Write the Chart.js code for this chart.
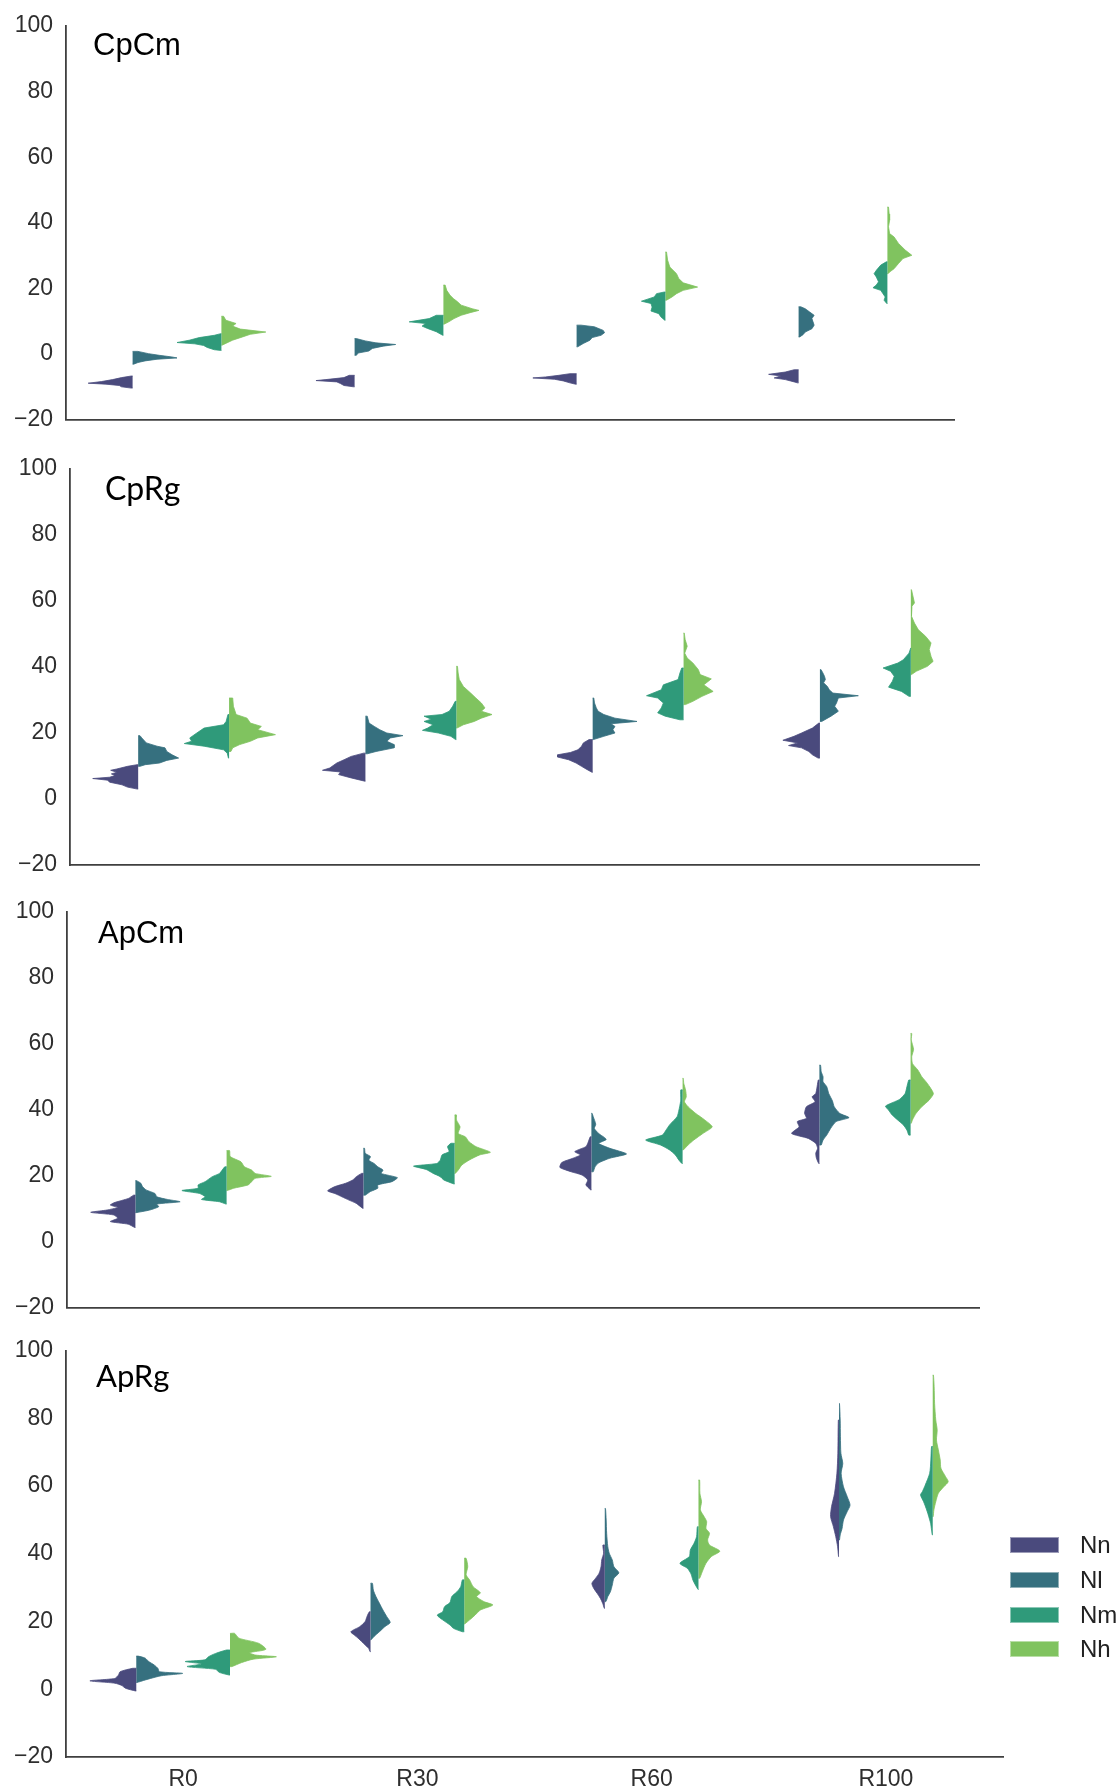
<!DOCTYPE html>
<html>
<head>
<meta charset="utf-8">
<title>Split violin panels</title>
<script src="https://cdn.jsdelivr.net/npm/chart.js@4.4.1/dist/chart.umd.min.js"></script>
<style>
  html, body { margin: 0; padding: 0; background: #ffffff; }
  #wrap { position: relative; width: 1119px; height: 1791px; overflow: hidden; }
  #wrap canvas { position: absolute; left: 0; }
  #legend { position: absolute; left: 1010px; top: 1528px; font-family: "Liberation Sans", Arial, sans-serif; font-size: 24px; color: #222; }
  #legend .item { display: flex; align-items: center; height: 34.7px; }
  #legend .swatch { width: 49px; height: 16px; margin-right: 21px; box-shadow: inset 0 0 0 1px rgba(255,255,255,0.45); }
</style>
</head>
<body>
<div id="wrap">
  <canvas id="p1" width="1119" height="440" style="top:0px;width:1119px;height:440px"></canvas>
  <canvas id="p2" width="1119" height="440" style="top:440px;width:1119px;height:440px"></canvas>
  <canvas id="p3" width="1119" height="440" style="top:880px;width:1119px;height:440px"></canvas>
  <canvas id="p4" width="1119" height="483" style="top:1320px;width:1119px;height:483px"></canvas>
  <div id="legend"></div>
</div>
<script>
// ---- categories, groups and tick values ----
const categories = ['R0', 'R30', 'R60', 'R100'];
const groups = ['Nn', 'Nl', 'Nm', 'Nh'];
const palette = ['#4a4a7d', '#36707f', '#2f9a7a', '#80c35f'];
const yTickValues = [-20, 0, 20, 40, 60, 80, 100];

// ---- density profiles: one per category (R0, R30, R60, R100),
//      each a list of [value, density] pairs, density in % of category width ----

// CpCm
const cpcmNn = [
  [[-6.7,0.5],[-7.2,5],[-7.8,9],[-8.4,14],[-8.9,20],[-9.2,12],[-9.6,6],[-10.0,5],[-10.4,0.5]],
  [[-6.5,2.4],[-7.2,4.8],[-7.8,12.9],[-8.1,17.4],[-8.5,8],[-9.0,6.4],[-9.6,4.8],[-10.0,0.5]],
  [[-6.0,3],[-6.5,8],[-7.0,14],[-7.3,19.7],[-7.7,10],[-8.2,6],[-8.8,3],[-9.2,0.5]],
  [[-4.8,2],[-5.5,6],[-6.2,13.5],[-6.7,8],[-7.3,11],[-7.8,6],[-8.5,2],[-8.8,0.5]]
];
const cpcmNl = [
  [[0.8,2.4],[0.1,7.2],[-0.4,12],[-0.9,17.7],[-1.2,20],[-1.6,11],[-2.1,5.6],[-2.6,2.4],[-3.1,0.5]],
  [[4.7,0.8],[4.0,4.8],[3.4,9.6],[2.9,18.5],[2.4,12.9],[1.7,8],[0.9,6.4],[0.3,1.6],[-0.4,0.8]],
  [[8.8,2],[8.3,8],[7.2,12],[6.5,12.6],[5.7,11],[5.0,7],[4.2,6],[3.2,3],[2.2,0.5]],
  [[14.4,1],[13.8,3],[12.8,5],[11.8,7],[10.8,6],[9.8,6.5],[8.8,7],[7.7,6],[6.7,3],[5.9,2],[5.2,0.5]]
];
const cpcmNm = [
  [[6.2,0.3],[5.7,3.2],[5.0,10],[4.2,14.5],[3.5,20],[3.1,12],[2.6,8],[2.0,6.4],[1.3,3.2],[1.1,0.3]],
  [[11.8,3.2],[10.8,6.4],[9.8,15.4],[9.3,8],[8.5,9.6],[7.8,7.2],[6.8,3.2],[5.7,0.3]],
  [[18.9,0.5],[18.4,4],[17.4,5],[16.1,10.8],[15.4,6.5],[14.3,6],[13.1,6.5],[12.3,3],[11.3,2],[10.3,0.3]],
  [[28.1,0.5],[27.1,3],[25.5,5],[24.5,6],[23.5,5],[22.0,4],[21.0,5],[20.2,6.5],[19.4,3],[18.4,2],[17.4,1],[16.4,1.5],[15.4,0.3]]
];
const cpcmNh = [
  [[11.5,1],[10.3,2],[9.3,6.6],[8.5,5],[7.6,8.5],[6.7,20],[6.0,13],[5.2,9.5],[4.2,5],[2.7,0.3]],
  [[21.0,0.8],[19.4,1.5],[17.9,3],[16.9,4.5],[15.9,6.4],[14.9,8],[13.8,13],[13.3,16],[12.6,12],[11.8,8],[10.8,4.8],[9.8,2.4],[9.1,0.3]],
  [[31.1,0.5],[28.6,1],[26.5,2],[24.5,5],[23.0,6],[21.7,8],[20.4,14.5],[19.4,8],[18.4,5],[17.4,3],[16.4,0.5]],
  [[44.8,0.5],[42.7,0.8],[40.8,1],[38.8,0.5],[36.7,1],[35.7,3],[33.7,5],[31.7,8],[30.1,11],[29.1,7],[27.6,5],[26.0,3],[25.0,1],[24.5,0.3]]
];

// CpRg
const cprgNn = [
  [[10.4,0.5],[9.9,4.7],[9.1,9.4],[8.7,12.1],[8.1,9.4],[7.6,11.8],[7.1,10.2],[6.6,12.6],[6.2,20],[5.7,13.4],[5.1,12.6],[4.3,7.1],[3.6,4.7],[3.0,0.3]],
  [[13.9,0.8],[12.9,6.3],[11.9,9.4],[10.9,12.6],[9.4,15.7],[8.7,18.9],[8.2,11],[7.4,11.8],[6.4,6.3],[5.4,0.3]],
  [[18.0,1.6],[17.0,4.1],[16.0,4.9],[14.9,6.5],[14.1,9.8],[13.4,15.4],[12.7,15.4],[11.9,10.6],[10.9,7.3],[9.9,4.9],[8.9,2.4],[8.1,0.3]],
  [[23.0,0.5],[21.5,3.3],[20.0,8.1],[19.0,11.4],[17.8,16.3],[17.0,9.8],[16.2,13.8],[15.5,8.1],[14.4,4.9],[13.4,3.3],[12.4,0.8]]
];
const cprgNl = [
  [[19.2,0.8],[18.5,1.6],[17.0,3.6],[16.0,8.3],[15.5,11.8],[14.4,12.6],[13.4,14.9],[12.4,17.8],[11.7,12.6],[10.9,9.4],[10.4,3.1],[9.9,0.8]],
  [[25.1,0.8],[23.0,1.6],[22.0,3.9],[21.0,6.3],[20.0,9.4],[19.2,16.5],[18.5,11],[17.5,9.4],[16.5,12.6],[15.5,12.6],[14.4,4.7],[13.7,0.8]],
  [[30.6,0.5],[29.1,0.8],[27.6,1.6],[26.6,2.4],[25.6,4.9],[24.5,9.8],[23.5,19.5],[22.8,8.1],[22.0,9.8],[21.0,8.9],[20.0,9.8],[19.0,4.9],[18.0,0.3]],
  [[39.2,0.5],[38.2,1.3],[37.2,2],[36.2,2.4],[35.2,1.6],[34.1,3.3],[33.1,4.1],[32.1,5.7],[31.3,16.9],[30.6,8.1],[29.1,7.3],[28.1,6.5],[26.6,8.1],[25.1,4.9],[23.5,0.8]]
];
const cprgNm = [
  [[25.6,0.5],[23.5,1.3],[22.5,2.4],[21.5,11],[20.0,14.2],[18.5,17.3],[17.5,16.5],[16.8,19.7],[16.0,11],[14.9,2.4],[13.9,0.8],[12.4,0.3]],
  [[29.6,0.5],[28.1,1.6],[26.6,3.1],[25.6,6.3],[25.1,14.2],[24.2,11],[23.5,14.2],[22.5,10.2],[21.5,12.6],[20.8,14.9],[20.0,7.9],[19.0,2.4],[18.0,0.3]],
  [[39.7,0.8],[38.2,1.6],[36.2,2.4],[34.6,8.9],[33.1,9.8],[31.3,16.3],[30.6,11.4],[29.1,8.9],[27.6,9.8],[26.1,11.4],[25.1,8.1],[24.0,1.6]],
  [[45.8,0.3],[44.2,0.8],[42.2,3.3],[41.2,5.7],[39.7,12.2],[38.7,8.9],[37.2,7.3],[35.7,8.1],[33.9,9.8],[32.6,4.1],[31.1,0.8]]
];
const cprgNh = [
  [[30.6,1.6],[28.1,1.9],[25.6,3.1],[24.5,7.9],[23.0,9.4],[22.0,14.2],[21.0,12.6],[19.5,20.4],[18.5,12.6],[17.5,9.4],[16.5,4.7],[15.5,1.6],[14.4,0.8]],
  [[40.2,0.5],[38.2,0.8],[36.2,1.3],[34.1,3.1],[32.1,6.3],[30.6,8.6],[29.1,11],[27.6,12.6],[26.6,11],[25.6,15.7],[24.5,11],[23.5,7.9],[22.5,3.1],[21.5,0.3]],
  [[50.3,0.3],[48.3,0.7],[46.3,1.6],[44.2,0.5],[42.7,1.6],[41.2,4.1],[39.2,6.5],[37.7,7.3],[36.4,12.2],[34.6,8.9],[32.6,13],[31.1,8.1],[29.6,4.1],[28.6,0.8]],
  [[63.4,0.3],[59.4,1.6],[58.4,0.5],[55.4,0.3],[53.3,1.6],[51.3,3.3],[49.3,6.5],[47.3,8.9],[45.3,8.1],[43.2,8.9],[41.7,9.8],[40.2,7.3],[38.7,2.4],[37.7,0.3]]
];

// ApCm
const apcmNn = [
  [[14.1,0.8],[13.1,3.1],[11.8,9.4],[11.1,11],[10.4,7.8],[9.6,12.5],[8.9,19.6],[8.1,9.4],[7.1,7.8],[6.1,11],[5.3,3.1],[4.3,0.3]],
  [[20.7,0.8],[19.7,3.1],[18.7,4.7],[17.7,7.8],[16.7,12.5],[15.4,15.7],[14.6,12.5],[13.6,9.4],[12.6,6.3],[11.6,3.1],[10.1,0.3]],
  [[31.8,0.5],[29.8,1.6],[28.8,2.4],[27.3,7.3],[26.3,4.9],[25.3,8.1],[24.0,13],[22.5,13.8],[21.2,8.9],[20.2,4.1],[18.7,1.6],[17.2,2.4],[15.7,0.3]],
  [[49.0,0.5],[44.9,1.6],[43.9,3.2],[42.4,1.9],[40.9,5.7],[38.9,6.5],[37.4,5.7],[36.4,9.7],[34.8,8.9],[32.8,12.2],[31.3,4.9],[29.8,1.6],[28.3,0.8],[26.8,1.6],[25.3,1.3],[23.7,0.3]]
];
const apcmNl = [
  [[18.5,0.5],[17.7,2.4],[16.7,3.1],[15.7,4.7],[14.6,8.6],[13.6,9.4],[12.8,14.1],[12.1,19.6],[11.4,9.4],[10.6,10.2],[9.6,6.3],[8.8,0.3]],
  [[28.3,0.5],[26.8,0.8],[25.8,3.1],[24.7,2.4],[23.7,4.7],[22.7,6.3],[21.7,8.6],[20.7,7.8],[19.4,14.9],[18.2,12.5],[17.2,6.3],[16.2,6.3],[15.2,3.1],[14.1,0.8]],
  [[38.9,0.3],[37.9,0.8],[35.6,1.9],[34.3,1.3],[32.8,3.2],[31.0,6.5],[29.8,3.2],[28.3,8.1],[26.6,15.4],[25.3,8.1],[23.9,3.2],[22.7,1.6],[21.2,0.8]],
  [[53.5,0.5],[51.5,0.8],[50.0,1.6],[48.5,1.6],[47.0,3.2],[44.9,4.1],[42.7,5.7],[40.9,6.5],[38.9,8.9],[37.6,13],[36.4,7.3],[34.3,4.9],[32.3,3.2],[30.8,1.6],[29.3,0.8]]
];
const apcmNm = [
  [[22.7,0.8],[20.7,3.1],[19.7,6.3],[18.2,9.4],[17.2,12.5],[16.2,12.5],[15.5,19.6],[14.6,11.8],[13.6,9.4],[12.8,11],[12.1,3.1],[11.4,0.3]],
  [[29.8,1.6],[28.8,3.1],[27.3,2.4],[26.3,5.5],[24.7,6.3],[23.7,7.8],[22.9,18],[21.9,12.5],[20.7,9.4],[19.7,6.3],[18.7,4.7],[17.5,0.3]],
  [[46.0,0.8],[42.9,0.8],[40.9,1.3],[39.9,1.6],[37.9,2.4],[35.4,5.7],[33.8,7.3],[32.3,8.9],[30.8,16.2],[29.3,9.7],[27.8,5.7],[26.3,3.2],[24.7,1.6],[23.7,0.3]],
  [[49.0,0.8],[47.0,1.6],[44.9,2.4],[43.1,4.9],[41.1,11],[39.9,9.7],[38.4,8.1],[36.9,5.7],[35.4,3.2],[33.8,1.6],[32.3,0.8]]
];
const apcmNh = [
  [[27.6,1.3],[25.8,1.6],[24.2,6.3],[22.7,7.8],[21.7,11],[20.7,12.5],[19.8,19.6],[19.2,12.5],[18.2,11],[17.2,9.4],[16.2,3.1],[15.5,0.3]],
  [[38.4,0.8],[36.9,0.8],[34.8,2.4],[32.8,1.6],[31.8,4.7],[30.3,6.3],[28.8,9.4],[27.1,15.7],[26.3,11],[24.7,6.3],[23.2,3.1],[21.7,1.6],[20.7,0.3]],
  [[49.5,0.3],[48.0,0.5],[46.0,1.3],[43.9,1.6],[42.4,0.8],[40.9,2.4],[38.9,5.7],[36.9,9.7],[34.8,13],[32.8,8.9],[30.8,4.9],[29.3,2.4],[27.8,0.3]],
  [[63.1,0.5],[61.1,0.3],[58.3,1.3],[56.1,0.5],[54.0,0.8],[52.0,3.2],[50.0,4.9],[48.0,7.3],[44.9,10],[42.9,8.1],[40.9,4.9],[38.9,2.4],[36.9,0.8],[35.9,0.3]]
];

// ApRg
const aprgNn = [
  [[6.2,1.5],[5.2,6.9],[4.2,7.6],[3.2,9.2],[2.5,19.8],[1.8,9.2],[1.1,6.1],[0.3,4.6],[-0.5,0.3]],
  [[22.9,0.5],[21.5,1.5],[20.0,2.3],[18.5,4.6],[17.0,8.4],[16.0,6.9],[15.1,5.3],[14.1,3.8],[13.1,2.3],[12.1,0.8],[11.1,0.2]],
  [[42.6,0.8],[40.2,0.5],[38.2,1.3],[36.2,1.6],[34.3,2.4],[32.8,3.9],[31.3,5.5],[29.8,4.7],[28.3,3.2],[26.9,1.9],[25.4,0.9],[23.9,0.2]],
  [[79.5,0.3],[69.7,0.5],[63.8,0.9],[57.9,1.9],[53.9,3.2],[51.0,3.6],[48.0,2.4],[45.1,1.4],[42.1,0.6],[39.2,0.2]]
];
const aprgNl = [
  [[9.8,0.8],[9.2,3.8],[8.2,5.3],[7.2,7.6],[6.2,9.2],[5.2,9.9],[4.7,19.8],[4.0,10.7],[3.2,6.1],[2.6,3.1],[2.0,0.3]],
  [[31.3,0.8],[29.3,1.2],[27.4,2.3],[25.4,3.8],[23.4,5.3],[21.5,6.9],[19.7,8.4],[18.5,6.1],[17.0,3.8],[15.6,1.5],[14.6,0.2]],
  [[53.4,0.3],[50.0,0.6],[46.1,0.8],[42.1,1.3],[40.2,1.9],[38.2,3.2],[36.2,3.9],[34.4,6.0],[32.8,3.9],[30.8,3.2],[28.8,2.4],[27.4,1.3],[25.9,0.5]],
  [[84.4,0.2],[79.5,0.5],[74.6,0.6],[69.7,0.8],[66.7,1.6],[63.8,0.9],[59.8,1.9],[56.9,3.5],[54.4,4.7],[52.5,3.5],[50.0,1.9],[47.5,1.3],[45.6,0.5],[44.1,0.2]]
];
const aprgNm = [
  [[11.6,1.5],[10.6,6.1],[9.6,9.2],[8.7,10.7],[8.2,19.1],[7.5,12.2],[6.7,18.3],[5.9,6.1],[5.0,4.6],[4.2,0.3]],
  [[32.3,0.8],[30.3,1.5],[28.8,3.1],[27.4,5.3],[25.6,6.1],[24.4,8.4],[22.9,9.2],[21.9,11.5],[20.5,9.2],[19.0,6.1],[18.0,4.6],[17.0,0.8]],
  [[48.0,0.5],[45.1,0.8],[43.1,1.9],[41.1,3.5],[39.2,3.9],[37.2,7.9],[35.7,4.7],[34.1,3.2],[32.3,2.4],[30.8,1.3],[29.5,0.2]],
  [[71.7,0.5],[67.7,0.8],[63.8,1.3],[60.3,3.2],[58.4,4.4],[57.4,5.2],[55.4,3.9],[53.4,2.8],[51.5,1.9],[49.0,0.9],[47.0,0.5],[45.6,0.2]]
];
const aprgNh = [
  [[16.5,2],[15.1,3.8],[13.6,12.2],[11.8,15.3],[10.8,8.4],[10.1,11],[9.6,19.8],[8.9,10],[7.9,5],[6.7,0.8]],
  [[38.7,0.8],[36.2,1.5],[33.8,0.8],[32.3,2.3],[30.3,3.8],[28.5,6.9],[27.4,5.3],[25.9,8.4],[24.9,12.2],[23.4,6.9],[21.9,4.6],[20.5,2.3],[19.3,0.2]],
  [[61.8,0.5],[57.9,0.6],[55.4,1.3],[53.0,0.8],[51.0,2.4],[49.5,3.5],[47.5,3.2],[46.1,4.7],[44.1,3.9],[42.6,4.7],[40.8,9.1],[39.2,5.5],[37.2,3.2],[34.7,1.6],[32.8,0.5]],
  [[92.8,0.3],[89.4,0.6],[84.4,0.8],[79.5,1.3],[76.6,1.9],[73.6,1.6],[70.7,2.4],[67.7,3.2],[65.3,3.5],[62.8,5.5],[61.3,6.6],[59.8,4.7],[57.9,2.4],[55.4,1.3],[53.0,0.5],[51.0,0.2]]
];

// ---- drawing ----
const SPLIT_OFFSET = 0.2;     // each split violin sits 0.2 category widths from the centre
const DENSITY_TO_X = 0.01;    // density is given in % of the category width

// Closed outline of one half violin: down the centre line, out along the profile.
function halfViolin(profile, centre, side) {
  const pts = [{ x: centre, y: profile[0][0] }];
  for (const [value, dens] of profile) {
    pts.push({ x: centre + side * dens * DENSITY_TO_X, y: value });
  }
  pts.push({ x: centre, y: profile[profile.length - 1][0] });
  return pts;
}

function buildDatasets(series, tension) {
  const datasets = [];
  series.forEach((profiles, g) => {
    const side = g % 2 === 0 ? -1 : 1;          // Nn, Nm to the left; Nl, Nh to the right
    const offset = g < 2 ? -SPLIT_OFFSET : SPLIT_OFFSET;
    profiles.forEach((profile, c) => {
      datasets.push({
        label: groups[g] + ' ' + categories[c],
        data: halfViolin(profile, c + offset, side),
        backgroundColor: palette[g],
        borderColor: palette[g],
        borderWidth: 0.8,
        fill: 'shape',
        pointRadius: 0,
        pointHoverRadius: 0,
        tension: tension
      });
    });
  });
  return datasets;
}

// Panel name written in the upper-left corner of the plot area
const panelLabel = {
  id: 'panelLabel',
  afterDraw(chart, args, opts) {
    const { ctx, chartArea } = chart;
    ctx.save();
    ctx.font = opts.font;
    ctx.fillStyle = '#000';
    ctx.textBaseline = 'alphabetic';
    ctx.textAlign = 'left';
    ctx.fillText(opts.text, chartArea.left + opts.dx, chartArea.top + opts.dy);
    ctx.restore();
  }
};

const AXIS_COLOR = '#3f3f3f';
const TICK_COLOR = '#2e2e2e';
const TICK_FONT = { family: '"Liberation Sans", Arial, sans-serif', size: 23, lineHeight: 1 };

const panels = [
  { id: 'p1', name: 'CpCm', series: [cpcmNn, cpcmNl, cpcmNm, cpcmNh], axisWidth: 66, tension: 0,
    padding: { top: 26, bottom: 20.4, left: 0, right: 165 }, font: '31px "Liberation Sans", Arial, sans-serif', dx: 27, dy: 29, showX: false },
  { id: 'p2', name: 'CpRg', series: [cprgNn, cprgNl, cprgNm, cprgNh], axisWidth: 70, tension: 0,
    padding: { top: 29, bottom: 15, left: 0, right: 140 }, font: '32px Lato, "Open Sans", sans-serif', dx: 35, dy: 31, showX: false },
  { id: 'p3', name: 'ApCm', series: [apcmNn, apcmNl, apcmNm, apcmNh], axisWidth: 67, tension: 0.2,
    padding: { top: 31.7, bottom: 12.3, left: 0, right: 140 }, font: '31px "Liberation Sans", Arial, sans-serif', dx: 31, dy: 31, showX: false },
  { id: 'p4', name: 'ApRg', series: [aprgNn, aprgNl, aprgNm, aprgNh], axisWidth: 66, tension: 0.25,
    padding: { top: 30.7, bottom: 0, left: 0, right: 116 }, font: '31px Lato, "Open Sans", sans-serif', dx: 30, dy: 36, showX: true }
];

panels.forEach(p => {
  new Chart(document.getElementById(p.id), {
    type: 'line',
    data: { datasets: buildDatasets(p.series, p.tension) },
    options: {
      responsive: false,
      animation: false,
      devicePixelRatio: 1,
      events: [],
      layout: { padding: p.padding },
      plugins: {
        legend: { display: false },
        tooltip: { enabled: false },
        panelLabel: { text: p.name, font: p.font, dx: p.dx, dy: p.dy }
      },
      scales: {
        x: {
          type: 'linear',
          min: -0.5,
          max: 3.5,
          afterBuildTicks: s => { s.ticks = categories.map((c, i) => ({ value: i })); },
          grid: { display: false, drawTicks: false },
          border: { display: true, color: AXIS_COLOR, width: 1.8 },
          ticks: {
            display: p.showX,
            padding: 11.5,
            color: TICK_COLOR,
            font: TICK_FONT,
            maxRotation: 0,
            autoSkip: false,
            callback: v => categories[v]
          }
        },
        y: {
          type: 'linear',
          min: -20,
          max: 100,
          afterBuildTicks: s => { s.ticks = yTickValues.map(v => ({ value: v })); },
          afterFit: s => { s.width = p.axisWidth; },
          // tick marks are not drawn; their length only sets the label gap
          grid: { display: false, drawTicks: true, tickLength: 13 },
          border: { display: true, color: AXIS_COLOR, width: 1.8 },
          ticks: {
            padding: 0,
            color: TICK_COLOR,
            font: TICK_FONT,
            callback: v => (v < 0 ? '\u2212' + Math.abs(v) : String(v))
          }
        }
      }
    },
    plugins: [panelLabel]
  });
});

// Legend for the four groups
const legend = document.getElementById('legend');
groups.forEach((g, i) => {
  const item = document.createElement('div');
  item.className = 'item';
  const sw = document.createElement('span');
  sw.className = 'swatch';
  sw.style.background = palette[i];
  const txt = document.createElement('span');
  txt.textContent = g;
  item.appendChild(sw);
  item.appendChild(txt);
  legend.appendChild(item);
});
</script>
</body>
</html>
